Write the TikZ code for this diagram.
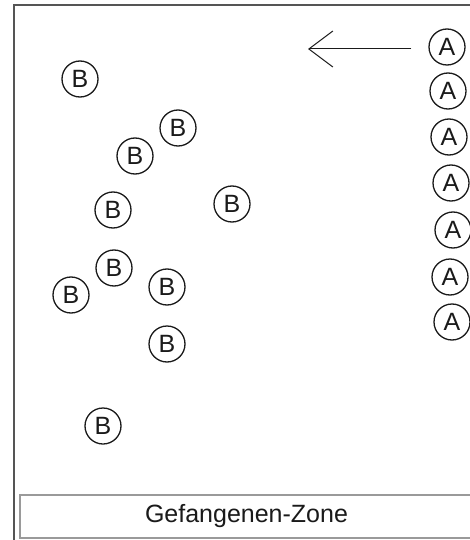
\documentclass[tikz,border=0pt]{standalone}
\usepackage{fontspec}
\setmainfont{Liberation Sans}
\usetikzlibrary{arrows.meta}
\definecolor{framegray}{HTML}{555555}
\definecolor{zonegray}{HTML}{9A9A9A}
\definecolor{ink}{HTML}{1A1A1A}
\begin{document}
\begin{tikzpicture}[x=1pt,y=-1pt,
  player/.style={circle,draw=ink,line width=1.3pt,minimum size=36pt,inner sep=0pt,
    font=\fontsize{25}{25}\selectfont,text=ink},
  runarrow/.style={draw=ink,line width=1pt,-{Straight Barb[length=24pt,width=36pt,line width=1pt]}},
  outerframe/.style={draw=framegray,line width=2pt},
  zonebox/.style={draw=zonegray,line width=2pt,fill=white,minimum width=470pt,minimum height=43pt,
    inner sep=0pt,anchor=north west}]
\clip (0,0) rectangle (470,540);
\fill[white] (0,0) rectangle (470,540);
\draw[outerframe] (14,5) rectangle (490,570);
% zone box
\node[zonebox] (zone) at (19,494) {};
\node[font=\fontsize{25}{25}\selectfont,text=ink,inner sep=0pt] (zonelabel) at (246.5,516) {Gefangenen-Zone};
% A players
\node[player] (A1) at (447,47) {A};
\node[player] (A2) at (448,91) {A};
\node[player] (A3) at (449,137) {A};
\node[player] (A4) at (451,183) {A};
\node[player] (A5) at (453,230) {A};
\node[player] (A6) at (450,277) {A};
\node[player] (A7) at (452,322) {A};
% B players
\node[player] (B1) at (80,79) {B};
\node[player] (B2) at (178,128) {B};
\node[player] (B3) at (135,156) {B};
\node[player] (B4) at (113,210) {B};
\node[player] (B5) at (232,204) {B};
\node[player] (B6) at (114,268) {B};
\node[player] (B7) at (71,295) {B};
\node[player] (B8) at (167,287) {B};
\node[player] (B9) at (167,344) {B};
\node[player] (B10) at (103,426) {B};
% arrow
\coordinate (arrowtip) at (308,49);
\draw[runarrow] ([xshift=-17pt,yshift=-2pt]A1.west) -- (arrowtip);
\end{tikzpicture}
\end{document}
